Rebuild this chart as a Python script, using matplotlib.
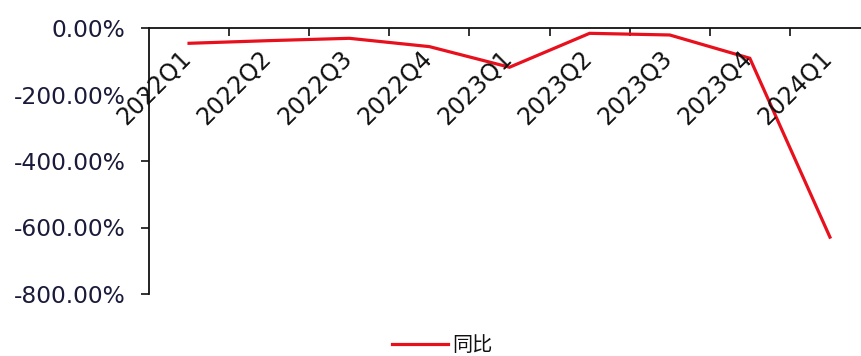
import matplotlib.pyplot as plt
from matplotlib.ticker import FixedLocator, FuncFormatter

quarters = ['2022Q1', '2022Q2', '2022Q3', '2022Q4', '2023Q1',
            '2023Q2', '2023Q3', '2023Q4', '2024Q1']
yoy = [-46, -38, -31, -56, -118, -16, -21, -91, -629]
y_ticks = [0, -200, -400, -600, -800]

RED = '#E8101C'


def main():
    plt.rcParams['font.family'] = ['DejaVu Sans', 'Noto Sans CJK SC']

    fig = plt.figure(figsize=(8.62, 3.56), dpi=100)
    ax = fig.add_axes([149 / 862, 1 - 294 / 356, 721 / 862, 266 / 356])

    xs = range(len(quarters))
    line, = ax.plot(xs, yoy, color=RED, lw=2.3, solid_joinstyle='miter')

    ax.set_xlim(-0.5, len(quarters) - 0.5)
    ax.set_ylim(-800, 0)

    # category axis sits on the zero line (top), ticks between categories
    for side in ('right', 'bottom'):
        ax.spines[side].set_visible(False)
    for side in ('top', 'left'):
        ax.spines[side].set_linewidth(1.3)
        ax.spines[side].set_color('#111111')

    ax.xaxis.tick_top()
    ax.xaxis.set_major_locator(FixedLocator([i + 0.5 for i in range(len(quarters))]))
    ax.tick_params(axis='x', direction='in', length=6, width=1.2,
                   labeltop=False, color='#111111')

    ax.yaxis.set_major_locator(FixedLocator(y_ticks))
    ax.yaxis.set_major_formatter(FuncFormatter(lambda v, _: f'{v:.2f}%'))
    ax.tick_params(axis='y', direction='out', length=6, width=1.2,
                   labelsize=16.8, pad=11, color='#111111', labelcolor='#1a1a3a')

    for i, q in enumerate(quarters):
        ax.annotate(q, xy=(i, 0), xycoords=('data', 'data'),
                    xytext=(-7, -13), textcoords='offset points',
                    rotation=45, rotation_mode='anchor',
                    ha='right', va='top', fontsize=17, color='#111111')

    fig.legend([line], ['同比'], loc='lower center',
               bbox_to_anchor=(0.513, -0.052), frameon=False,
               prop={'family': 'Noto Sans CJK SC', 'size': 14.5},
               handlelength=2.8, handletextpad=0.2, labelcolor='#111111')

    fig.savefig('out.png', dpi=100)


if __name__ == '__main__':
    main()
